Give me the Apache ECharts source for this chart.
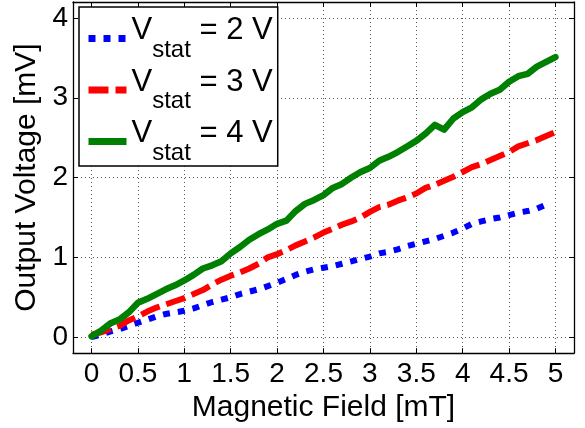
<!DOCTYPE html>
<html>
<head>
<meta charset="utf-8">
<script src="https://cdn.jsdelivr.net/npm/echarts@6/dist/echarts.min.js"></script>
<style>
  html, body { margin: 0; padding: 0; background: #fff; }
  #chart { width: 585px; height: 428px; }
</style>
</head>
<body>
<div id="chart"></div>
<script>
// magnetic field [mT]
const field = [
  0.0, 0.1, 0.2, 0.3, 0.4, 0.5, 0.6, 0.7, 0.8, 0.9,
  1.0, 1.1, 1.2, 1.3, 1.4, 1.5, 1.6, 1.7, 1.8, 1.9,
  2.0, 2.1, 2.2, 2.3, 2.4, 2.5, 2.6, 2.7, 2.8, 2.9,
  3.0, 3.1, 3.2, 3.3, 3.4, 3.5, 3.6, 3.7, 3.8, 3.9,
  4.0, 4.1, 4.2, 4.3, 4.4, 4.5, 4.6, 4.7, 4.8, 4.9, 5.0
];

// output voltage [mV] for each Vstat
const vstat2 = [
  0.00, 0.03, 0.07, 0.10, 0.14, 0.18, 0.22, 0.26, 0.29, 0.31,
  0.33, 0.36, 0.40, 0.44, 0.47, 0.50, 0.54, 0.57, 0.60, 0.64,
  0.68, 0.73, 0.78, 0.82, 0.85, 0.87, 0.89, 0.92, 0.95, 0.98,
  1.01, 1.05, 1.07, 1.10, 1.14, 1.17, 1.20, 1.23, 1.27, 1.31,
  1.36, 1.42, 1.45, 1.48, 1.50, 1.53, 1.56, 1.58, 1.61, 1.66, null
];
const vstat3 = [
  0.03, 0.06, 0.10, 0.14, 0.21, 0.26, 0.32, 0.37, 0.41, 0.45,
  0.49, 0.54, 0.59, 0.66, 0.72, 0.77, 0.81, 0.86, 0.92, 1.00,
  1.04, 1.09, 1.15, 1.20, 1.25, 1.31, 1.36, 1.41, 1.45, 1.50,
  1.57, 1.63, 1.66, 1.71, 1.75, 1.80, 1.87, 1.91, 1.96, 2.01,
  2.07, 2.13, 2.17, 2.22, 2.27, 2.32, 2.39, 2.43, 2.47, 2.52, 2.57
];
const vstat4 = [
  0.01, 0.08, 0.17, 0.22, 0.31, 0.43, 0.48, 0.54, 0.60, 0.65,
  0.71, 0.78, 0.86, 0.90, 0.95, 1.05, 1.13, 1.22, 1.29, 1.35,
  1.42, 1.46, 1.58, 1.67, 1.72, 1.78, 1.87, 1.92, 2.00, 2.07,
  2.12, 2.21, 2.26, 2.32, 2.39, 2.46, 2.55, 2.66, 2.60, 2.74,
  2.82, 2.88, 2.98, 3.05, 3.10, 3.20, 3.27, 3.30, 3.39, 3.45, 3.51
];

const xTicks = [0, 0.5, 1, 1.5, 2, 2.5, 3, 3.5, 4, 4.5, 5];
const yTicks = [0, 1, 2, 3, 4];
const legendNames = ["V2", "V3", "V4"];
const legendValues = { V2: "2", V3: "3", V4: "4" };

const font = "'Liberation Sans', Arial, Helvetica, sans-serif";

const chart = echarts.init(document.getElementById("chart"), null, { renderer: "canvas" });

const pairs = (ys) => field.map((x, i) => [x, ys[i]]);

const gridLine = { show: true, lineStyle: { color: "#555", type: [1, 3], width: 1 } };
const axisLine = { show: true, onZero: false, lineStyle: { color: "#000", width: 1.3 } };
const tick = (vals) => ({ show: true, inside: true, length: 5, customValues: vals, lineStyle: { color: "#000", width: 1 } });

const option = {
  animation: false,
  backgroundColor: "#fff",
  textStyle: { fontFamily: font },
  grid: { left: 73, right: 11, top: 2, bottom: 73, containLabel: false },
  legend: {
    orient: "vertical",
    left: 79,
    top: 7,
    data: legendNames,
    itemWidth: 38,
    itemHeight: 2,
    itemGap: 4.5,
    padding: [8, 5, 1, 6],
    backgroundColor: "#fff",
    borderColor: "#000",
    borderWidth: 1.5,
    borderRadius: 0,
    z: 10,
    itemStyle: { opacity: 0 },
    lineStyle: { width: 7, cap: "butt" },
    formatter: (name) => `{v|V}{s|stat}{v| = ${legendValues[name]} V}`,
    textStyle: {
      color: "#000",
      rich: {
        v: { fontSize: 31, lineHeight: 47, verticalAlign: "top", fontFamily: font, color: "#000" },
        s: { fontSize: 24, lineHeight: 47, verticalAlign: "bottom", fontFamily: font, color: "#000" }
      }
    }
  },
  xAxis: [
    {
      type: "value",
      min: -0.2,
      max: 5.2,
      position: "bottom",
      name: "Magnetic Field [mT]",
      nameLocation: "middle",
      nameGap: 35,
      nameTextStyle: { fontSize: 30, color: "#000", fontFamily: font },
      axisLine: axisLine,
      axisTick: tick(xTicks),
      axisLabel: { customValues: xTicks, fontSize: 28, color: "#000", margin: 7, fontFamily: font },
      splitLine: gridLine
    },
    {
      type: "value",
      min: -0.2,
      max: 5.2,
      position: "top",
      axisLine: axisLine,
      axisTick: tick(xTicks),
      axisLabel: { show: false },
      splitLine: { show: false }
    }
  ],
  yAxis: [
    {
      type: "value",
      min: -0.2,
      max: 4.2,
      position: "left",
      name: "Output Voltage [mV]",
      nameLocation: "middle",
      nameGap: 31,
      nameTextStyle: { fontSize: 30, color: "#000", fontFamily: font },
      axisLine: axisLine,
      axisTick: tick(yTicks),
      axisLabel: { customValues: yTicks, fontSize: 28, color: "#000", margin: 5, fontFamily: font },
      splitLine: gridLine
    },
    {
      type: "value",
      min: -0.2,
      max: 4.2,
      position: "right",
      axisLine: axisLine,
      axisTick: tick(yTicks),
      axisLabel: { show: false },
      splitLine: { show: false }
    }
  ],
  series: [
    {
      name: "V2",
      type: "line",
      data: pairs(vstat2),
      symbol: "none",
      connectNulls: false,
      lineStyle: { color: "#0000ff", width: 6, type: [7, 8], cap: "butt" },
      itemStyle: { color: "#0000ff" },
      z: 2
    },
    {
      name: "V3",
      type: "line",
      data: pairs(vstat3),
      symbol: "none",
      lineStyle: { color: "#ff0000", width: 6, type: [20, 7], cap: "butt" },
      itemStyle: { color: "#ff0000" },
      z: 3
    },
    {
      name: "V4",
      type: "line",
      data: pairs(vstat4),
      symbol: "none",
      lineStyle: { color: "#008000", width: 6.5, cap: "round", join: "round" },
      itemStyle: { color: "#008000" },
      z: 4
    }
  ]
};

chart.setOption(option);
window.addEventListener("resize", () => chart.resize());
</script>
</body>
</html>
